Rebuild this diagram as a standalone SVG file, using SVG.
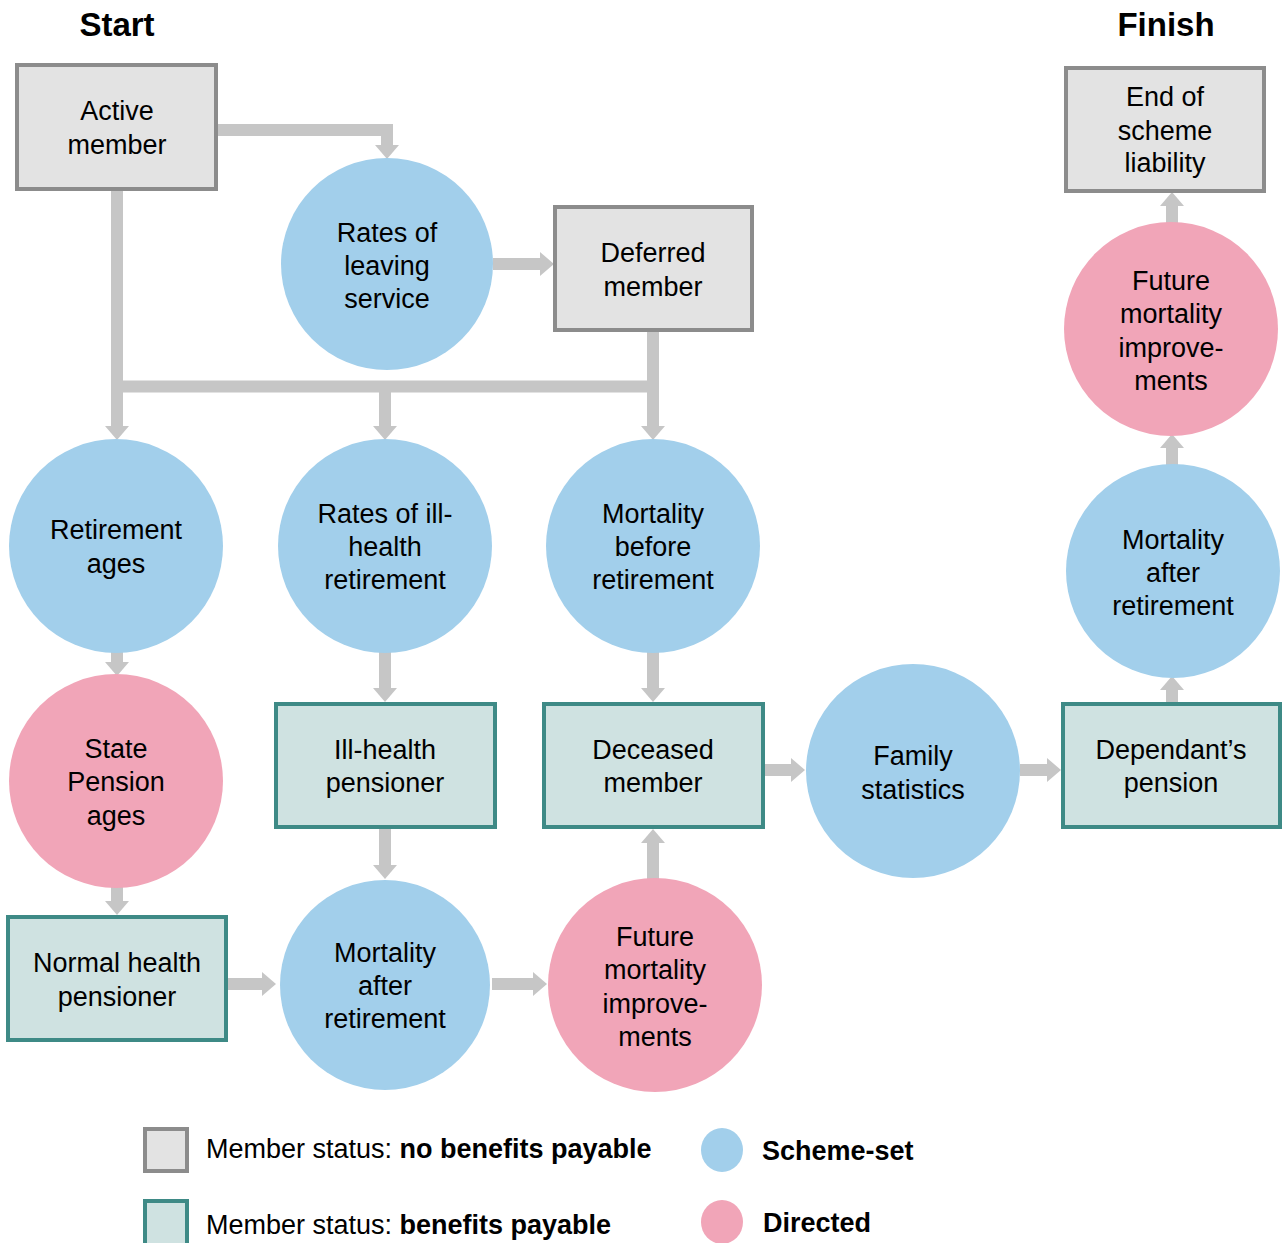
<svg xmlns="http://www.w3.org/2000/svg" width="1282" height="1243" viewBox="0 0 1282 1243">
<style>
text{font-family:"Liberation Sans",Arial,sans-serif;font-size:27px;fill:#000;text-anchor:middle}
.title{font-size:33px;font-weight:bold}
.grey{fill:#e3e3e3;stroke:#8c8c8c;stroke-width:4}
.teal{fill:#cfe2e1;stroke:#3e8a86;stroke-width:4}
.blue{fill:#a2cfeb}
.pink{fill:#f1a5b8}
.conn path{fill:none;stroke:#c6c6c6;stroke-width:12}
.lg{text-anchor:start}
.b{font-weight:bold}
</style>
<defs>
<marker id="ah" viewBox="0 0 14 24" refX="1" refY="12" markerWidth="14" markerHeight="24" markerUnits="userSpaceOnUse" orient="auto">
<path d="M0,0 L14,12 L0,24 Z" fill="#c6c6c6"/>
</marker>
</defs>
<rect width="1282" height="1243" fill="#fff"/>
<text class="title" x="117" y="36">Start</text>
<text class="title" x="1166" y="36">Finish</text>

<g class="conn">
<path d="M216,130 H387 V146" marker-end="url(#ah)"/>
<path d="M117,189 V427" marker-end="url(#ah)"/>
<path d="M653,330 V427" marker-end="url(#ah)"/>
<path d="M111,386.5 H659"/>
<path d="M385,386 V427" marker-end="url(#ah)"/>
<path d="M493,264 H541" marker-end="url(#ah)"/>
<path d="M117,650 V663" marker-end="url(#ah)"/>
<path d="M117,884 V902" marker-end="url(#ah)"/>
<path d="M385,650 V689" marker-end="url(#ah)"/>
<path d="M653,650 V689" marker-end="url(#ah)"/>
<path d="M385,828 V866" marker-end="url(#ah)"/>
<path d="M227,984 H263" marker-end="url(#ah)"/>
<path d="M492,984 H534" marker-end="url(#ah)"/>
<path d="M653,881 V842" marker-end="url(#ah)"/>
<path d="M764,770 H792" marker-end="url(#ah)"/>
<path d="M1020,770 H1048" marker-end="url(#ah)"/>
<path d="M1172,703 V689" marker-end="url(#ah)"/>
<path d="M1172,467 V447" marker-end="url(#ah)"/>
<path d="M1172,225 V205" marker-end="url(#ah)"/>
</g>

<g id="active-member"><rect class="grey" x="17" y="65" width="199" height="124"/><text x="117" y="120">Active</text><text x="117" y="154">member</text></g>
<g id="rates-leaving"><circle class="blue" cx="387" cy="264" r="106"/><text x="387" y="242">Rates of</text><text x="387" y="275">leaving</text><text x="387" y="308">service</text></g>
<g id="deferred-member"><rect class="grey" x="555" y="207" width="197" height="123"/><text x="653" y="262">Deferred</text><text x="653" y="296">member</text></g>
<g id="end-scheme"><rect class="grey" x="1066" y="68" width="198" height="123"/><text x="1165" y="106">End of</text><text x="1165" y="140">scheme</text><text x="1165" y="172">liability</text></g>
<g id="future-mort-right"><circle class="pink" cx="1171" cy="329" r="107"/><text x="1171" y="290">Future</text><text x="1171" y="323">mortality</text><text x="1171" y="357">improve-</text><text x="1171" y="390">ments</text></g>
<g id="retirement-ages"><circle class="blue" cx="116" cy="546" r="107"/><text x="116" y="539">Retirement</text><text x="116" y="573">ages</text></g>
<g id="rates-ill-health"><circle class="blue" cx="385" cy="546" r="107"/><text x="385" y="523">Rates of ill-</text><text x="385" y="556">health</text><text x="385" y="589">retirement</text></g>
<g id="mortality-before"><circle class="blue" cx="653" cy="546" r="107"/><text x="653" y="523">Mortality</text><text x="653" y="556">before</text><text x="653" y="589">retirement</text></g>
<g id="mortality-after-right"><circle class="blue" cx="1173" cy="571" r="107"/><text x="1173" y="549">Mortality</text><text x="1173" y="582">after</text><text x="1173" y="615">retirement</text></g>
<g id="state-pension"><circle class="pink" cx="116" cy="781" r="107"/><text x="116" y="758">State</text><text x="116" y="791">Pension</text><text x="116" y="825">ages</text></g>
<g id="ill-health-pensioner"><rect class="teal" x="276" y="704" width="219" height="123"/><text x="385" y="759">Ill-health</text><text x="385" y="792">pensioner</text></g>
<g id="deceased-member"><rect class="teal" x="544" y="704" width="219" height="123"/><text x="653" y="759">Deceased</text><text x="653" y="792">member</text></g>
<g id="family-statistics"><circle class="blue" cx="913" cy="771" r="107"/><text x="913" y="765">Family</text><text x="913" y="799">statistics</text></g>
<g id="dependants-pension"><rect class="teal" x="1063" y="704" width="217" height="123"/><text x="1171" y="759">Dependant’s</text><text x="1171" y="792">pension</text></g>
<g id="normal-health"><rect class="teal" x="8" y="917" width="218" height="123"/><text x="117" y="972">Normal health</text><text x="117" y="1006">pensioner</text></g>
<g id="mortality-after-bottom"><circle class="blue" cx="385" cy="985" r="105"/><text x="385" y="962">Mortality</text><text x="385" y="995">after</text><text x="385" y="1028">retirement</text></g>
<g id="future-mort-bottom"><circle class="pink" cx="655" cy="985" r="107"/><text x="655" y="946">Future</text><text x="655" y="979">mortality</text><text x="655" y="1013">improve-</text><text x="655" y="1046">ments</text></g>

<g id="legend">
<rect class="grey" x="145" y="1129" width="42" height="42"/>
<text class="lg" x="206" y="1158">Member status: <tspan class="b">no benefits payable</tspan></text>
<rect class="teal" x="145" y="1201" width="42" height="44"/>
<text class="lg" x="206" y="1234">Member status: <tspan class="b">benefits payable</tspan></text>
<ellipse class="blue" cx="722" cy="1150" rx="21" ry="22"/>
<text class="lg b" x="762" y="1160">Scheme-set</text>
<ellipse class="pink" cx="722" cy="1222" rx="21" ry="22"/>
<text class="lg b" x="763" y="1232">Directed</text>
</g>
</svg>
